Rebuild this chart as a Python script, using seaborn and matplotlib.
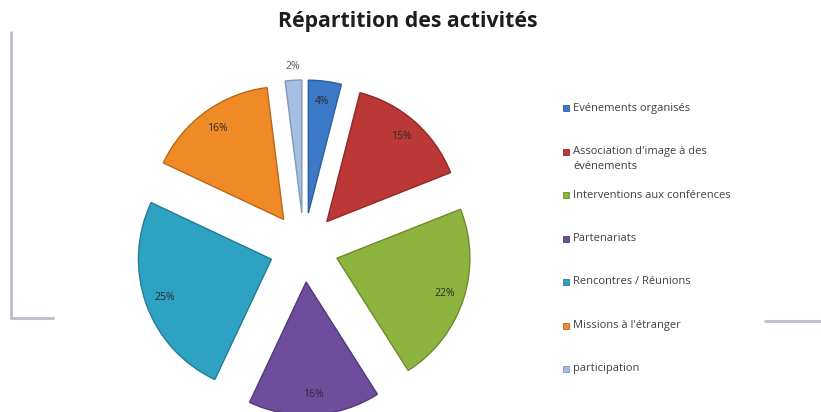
import matplotlib
matplotlib.use("Agg")
import matplotlib.pyplot as plt
import seaborn as sns
import numpy as np
from matplotlib.lines import Line2D
from matplotlib.patches import Rectangle

# ---- data ----
categories = ["Evénements organisés",
              "Association d'image à des\névénements",
              "Interventions aux conférences",
              "Partenariats",
              "Rencontres / Réunions",
              "Missions à l'étranger",
              "participation"]
values = [4, 15, 22, 16, 25, 16, 2]
colors = ["#3C79C6", "#BB3836", "#8DB43E", "#6E4E9C", "#2EA2C3", "#F08A26", "#A5BEE2"]
edge_colors = ["#2D5E9E", "#8E2826", "#6C8A2E", "#523A78", "#237C96", "#B86818", "#7F97BD"]
title = "Répartition des activités"

sns.set_theme(style="white")
plt.rcParams['font.family'] = ['Open Sans', 'DejaVu Sans']

W, H = 821, 412
fig = plt.figure(figsize=(W / 100, H / 100), dpi=100)
fig.patch.set_facecolor("white")

# pie axes: centre at (304, 247) px from top-left, radius 133 px -> 1 data unit
R = 133
cx, cy = 304, 247.5
ax = fig.add_axes([(cx - 2 * R) / W, (H - cy - 2 * R) / H, 4 * R / W, 4 * R / H])
pal = sns.color_palette(colors)
wedges, texts, autotexts = ax.pie(values, colors=pal, startangle=90, counterclock=False,
                                  explode=[0.26] * len(values), autopct='%1.0f%%',
                                  pctdistance=0.85, radius=1,
                                  textprops=dict(fontsize=7.5, color="#2A2A2A"),
                                  wedgeprops=dict(linewidth=1.0))
for w, ec in zip(wedges, edge_colors):
    w.set_edgecolor(ec)
# small last slice: label outside
w = wedges[-1]
tm = np.deg2rad((w.theta1 + w.theta2) / 2)
autotexts[-1].set_position((w.center[0] + 1.1 * w.r * np.cos(tm),
                            w.center[1] + 1.1 * w.r * np.sin(tm)))
autotexts[-1].set_color("#595959")
ax.set_xlim(-2, 2)
ax.set_ylim(-2, 2)
ax.axis('off')

# title
fig.text(408 / W, 1 - 22 / H, title, ha='center', va='center',
         fontsize=15.3, fontweight='bold', color="#1E1E1E")

# legend
y0, dy = 108, 43.5
for i, (lab, col) in enumerate(zip(categories, colors)):
    y = y0 + i * dy
    fig.patches.append(Rectangle((563 / W, 1 - (y + 3) / H), 6 / W, 6 / H,
                                 transform=fig.transFigure, facecolor=col,
                                 edgecolor=edge_colors[i], linewidth=0.6))
    fig.text(573 / W, 1 - (y - 5.5) / H, lab, ha='left', va='top',
             fontsize=8.0, color="#404040", linespacing=1.55)

# decorative frame lines
lc = "#BDBAD0"
fig.add_artist(Line2D([11 / W, 11 / W], [1 - 32 / H, 1 - 318 / H], color=lc, lw=2,
                      transform=fig.transFigure))
fig.add_artist(Line2D([11 / W, 53 / W], [1 - 318 / H, 1 - 318 / H], color=lc, lw=2,
                      transform=fig.transFigure))
fig.add_artist(Line2D([765 / W, 821 / W], [1 - 321 / H, 1 - 321 / H], color=lc, lw=2,
                      transform=fig.transFigure))

fig.savefig("out.png", dpi=100)
